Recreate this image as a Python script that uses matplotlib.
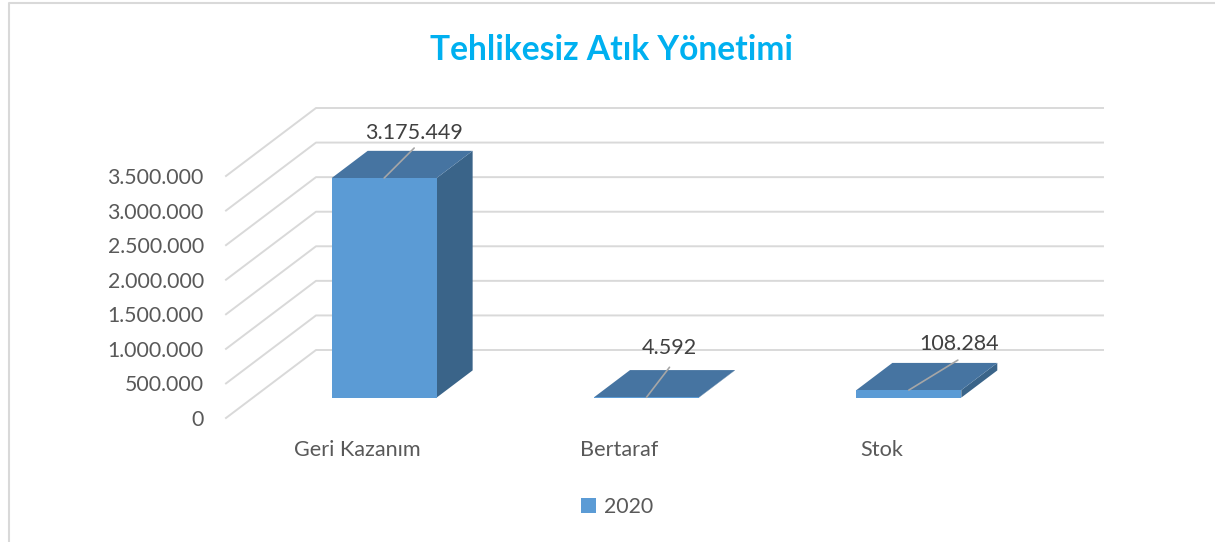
import matplotlib
matplotlib.use("Agg")
import matplotlib.pyplot as plt
from matplotlib.lines import Line2D
from matplotlib.patches import Patch, Polygon

categories = ["Geri Kazanım", "Bertaraf", "Stok"]
values_2020 = [3175449, 4592, 108284]
value_labels = ["3.175.449", "4.592", "108.284"]
y_ticks = [0, 500000, 1000000, 1500000, 2000000, 2500000, 3000000, 3500000]
y_tick_labels = ["0", "500.000", "1.000.000", "1.500.000", "2.000.000", "2.500.000", "3.000.000", "3.500.000"]
series_name = "2020"
title = "Tehlikesiz Atık Yönetimi"

W, H = 1215, 542
FONT = "Lato"
FRONT = "#5b9bd5"
TOP = "#4674a1"
SIDE = "#3a6489"
GRID = "#d9d9d9"

# front plane of the fake 3d box, in pixels
LEFT, RIGHT, BOTTOM, TOP_PX = 226, 1013, 418, 176
# how far the back wall is shifted from the front plane, in pixels
DEPTH_X, DEPTH_Y = 90, 68
BAR_WIDTH = 0.4
BAR_D0, BAR_D1 = 0.30, 0.70

# leader line end and label centre relative to the bar top, in pixels
leader_ends = [(30, 30), (23, 30), (49, 30)]
label_offsets = [(30, 45), (23, 49), (50, 46)]

plt.rcParams["font.family"] = [FONT, "DejaVu Sans"]

fig = plt.figure(figsize=(W / 100, H / 100), dpi=100)
ax = fig.add_axes([LEFT / W, 1 - BOTTOM / H, (RIGHT - LEFT) / W, (BOTTOM - TOP_PX) / H])
ax.set_xlim(-0.5, 2.5)
ax.set_ylim(0, 3500000)

x_per_px = 3 / (RIGHT - LEFT)
y_per_px = 3500000 / (BOTTOM - TOP_PX)


def proj(x, v, d):
    # oblique projection: d=0 front plane, d=1 back wall
    return x + DEPTH_X * d * x_per_px, v + DEPTH_Y * d * y_per_px


# gridlines: along the side wall, then across the back wall
for t in y_ticks:
    pts = [proj(-0.5, t, 0), proj(-0.5, t, 1), proj(2.5, t, 1)]
    ax.plot([p[0] for p in pts], [p[1] for p in pts], color=GRID, lw=1.4, clip_on=False, zorder=1)

for i, v in enumerate(values_2020):
    x0, x1 = i - BAR_WIDTH / 2, i + BAR_WIDTH / 2
    side = [proj(x1, 0, BAR_D0), proj(x1, 0, BAR_D1), proj(x1, v, BAR_D1), proj(x1, v, BAR_D0)]
    top = [proj(x0, v, BAR_D0), proj(x1, v, BAR_D0), proj(x1, v, BAR_D1), proj(x0, v, BAR_D1)]
    front = [proj(x0, 0, BAR_D0), proj(x1, 0, BAR_D0), proj(x1, v, BAR_D0), proj(x0, v, BAR_D0)]
    ax.add_patch(Polygon(side, closed=True, fc=SIDE, ec="none", clip_on=False, zorder=2))
    ax.add_patch(Polygon(top, closed=True, fc=TOP, ec="none", clip_on=False, zorder=2))
    ax.add_patch(Polygon(front, closed=True, fc=FRONT, ec="none", clip_on=False, zorder=3))

    # data label with its leader line
    anchor = proj(i, v, BAR_D0)
    ax.annotate("", xy=anchor, xycoords="data", xytext=leader_ends[i], textcoords="offset pixels",
                arrowprops=dict(arrowstyle="-", color="#a6a6a6", lw=1.2, shrinkA=0, shrinkB=0), zorder=4)
    ax.annotate(value_labels[i], xy=anchor, xycoords="data", xytext=label_offsets[i],
                textcoords="offset pixels", ha="center", va="center", fontsize=15.5, color="#404040", zorder=5)

for s in ax.spines.values():
    s.set_visible(False)
ax.patch.set_alpha(0)
ax.set_xticks(range(len(categories)))
ax.set_xticklabels(categories, fontsize=15.6, color="#595959")
ax.set_yticks(y_ticks)
ax.set_yticklabels(y_tick_labels, fontsize=15.3, color="#595959")
ax.tick_params(axis="x", length=0, pad=16)
ax.tick_params(axis="y", length=0, pad=16)

fig.text(612 / W, 1 - 49.5 / H, title, ha="center", va="center", fontsize=24.2, fontweight="bold", color="#00b0f0")

fig.legend(handles=[Patch(fc=FRONT, ec="none", label=series_name)], loc="center",
           bbox_to_anchor=(617 / W, 1 - 507 / H), frameon=False, fontsize=15.3, labelcolor="#595959",
           handlelength=0.7, handleheight=0.7, handletextpad=0.35)

# chart frame, only left and top edges are in the crop
fig.add_artist(Line2D([9 / W, 9 / W, 1], [0, 1 - 2.5 / H, 1 - 2.5 / H], color=GRID, lw=1.5))

fig.savefig("out.png", dpi=100)
